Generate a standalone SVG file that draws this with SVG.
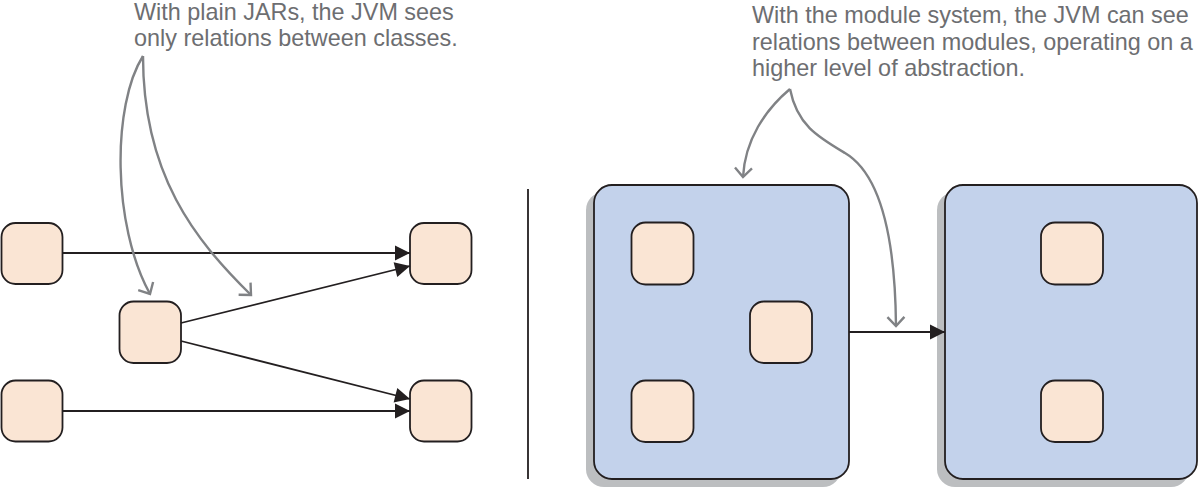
<svg xmlns="http://www.w3.org/2000/svg" width="1200" height="488" viewBox="0 0 1200 488">
  <style>
    .cls { fill: #fae5d4; stroke: #231f20; stroke-width: 1.8; }
    .mod { fill: #c3d2eb; stroke: #231f20; stroke-width: 1.8; }
    .shadow { fill: #bcbec0; stroke: none; }
    .link { fill: none; stroke: #231f20; stroke-width: 1.8; }
    .note { fill: none; stroke: #808285; stroke-width: 2.4; }
    .txt { font-family: "Liberation Sans", Arial, Helvetica, sans-serif; font-size: 23.4px; fill: #6d6e71; }
  </style>
  <defs>
    <marker id="arrow" markerUnits="userSpaceOnUse" markerWidth="16" markerHeight="16" refX="15" refY="7.5" orient="auto" overflow="visible">
      <path d="M0,0 L15,7.5 L0,15 z" fill="#231f20"/>
    </marker>
    <marker id="open" markerUnits="userSpaceOnUse" markerWidth="14" markerHeight="20" refX="10" refY="9" orient="auto" overflow="visible">
      <path d="M1,0.5 L10,9 L1,17.5" fill="none" stroke="#808285" stroke-width="2.4"/>
    </marker>
  </defs>

  <!-- texts -->
  <g id="note-left">
    <text class="txt" x="134" y="20">With plain JARs, the JVM sees</text>
    <text class="txt" x="134" y="46">only relations between classes.</text>
  </g>
  <g id="note-right">
    <text class="txt" x="752" y="23">With the module system, the JVM can see</text>
    <text class="txt" x="752" y="49.5">relations between modules, operating on a</text>
    <text class="txt" x="752" y="76">higher level of abstraction.</text>
  </g>

  <!-- divider -->
  <line x1="528" y1="189" x2="528" y2="479" stroke="#231f20" stroke-width="1.8"/>

  <!-- left nodes -->
  <g id="c1"><rect class="cls" x="1.5" y="223" width="61" height="61" rx="14"/></g>
  <g id="c2"><rect class="cls" x="119.5" y="301.5" width="61.5" height="61.5" rx="14"/></g>
  <g id="c3"><rect class="cls" x="1.5" y="380.5" width="61" height="61" rx="14"/></g>
  <g id="c4"><rect class="cls" x="410" y="223" width="61.5" height="61" rx="14"/></g>
  <g id="c5"><rect class="cls" x="410" y="380.5" width="61.5" height="61" rx="14"/></g>

  <!-- modules -->
  <g id="module1">
    <rect class="shadow" x="586" y="192" width="255" height="295" rx="18"/>
    <rect class="mod" x="594" y="185" width="255" height="294" rx="18"/>
    <rect class="cls" x="631.5" y="222.5" width="62" height="62" rx="14"/>
    <rect class="cls" x="750" y="301.5" width="62" height="61.5" rx="14"/>
    <rect class="cls" x="631.5" y="380.5" width="62" height="61.5" rx="14"/>
  </g>
  <g id="module2">
    <rect class="shadow" x="937" y="192" width="252" height="295" rx="18"/>
    <rect class="mod" x="945" y="185" width="252" height="294" rx="18"/>
    <rect class="cls" x="1041" y="222.5" width="62" height="62" rx="14"/>
    <rect class="cls" x="1041" y="380.5" width="62" height="61.5" rx="14"/>
  </g>

  <!-- connectors -->
  <g id="connectors">
    <line class="link" x1="62.5" y1="253" x2="410" y2="253" marker-end="url(#arrow)"/>
    <line class="link" x1="181" y1="323" x2="410" y2="266" marker-end="url(#arrow)"/>
    <line class="link" x1="181" y1="341" x2="410" y2="399" marker-end="url(#arrow)"/>
    <line class="link" x1="62.5" y1="411" x2="410" y2="411" marker-end="url(#arrow)"/>
    <line class="link" x1="849" y1="332" x2="945" y2="332" marker-end="url(#arrow)"/>

    <path class="note" d="M143,56 C112,105 112,225 150,294" marker-end="url(#open)"/>
    <path class="note" d="M143,56 C143,175 195,240 251,295" marker-end="url(#open)"/>
    <path class="note" d="M790,89 C765,110 745,140 743,177" marker-end="url(#open)"/>
    <path class="note" d="M790,89 C797,125 818,137 845,153 S895,215 896,326" marker-end="url(#open)"/>
  </g>
</svg>
